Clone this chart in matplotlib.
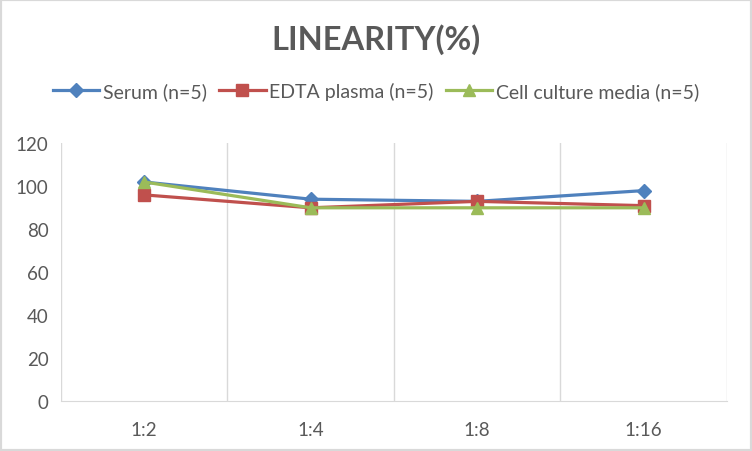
import numpy as np
import matplotlib.pyplot as plt
from matplotlib.patches import Rectangle

# dilution levels and recovery values (%)
dilutions = ['1:2', '1:4', '1:8', '1:16']
serum = [102, 94, 93, 98]
edta_plasma = [96, 90, 93, 91]
cell_media = [102, 90, 90, 90]
series_names = ['Serum (n=5)', 'EDTA plasma (n=5)', 'Cell culture media (n=5)']

plt.rcParams['font.family'] = ['Lato', 'DejaVu Sans']

fig = plt.figure(figsize=(7.52, 4.52), dpi=100)
ax = fig.add_axes([61 / 752, 1 - 402.3 / 452, 666 / 752, 258 / 452])

x = np.arange(len(dilutions)) + 0.5
ax.plot(x, serum, color='#4F81BD', lw=2.3, marker='D', ms=7, label=series_names[0])
ax.plot(x, edta_plasma, color='#C0504D', lw=2.3, marker='s', ms=8, label=series_names[1])
ax.plot(x, cell_media, color='#9BBB59', lw=2.3, marker='^', ms=9, label=series_names[2])

ax.set_xlim(0, len(dilutions))
ax.set_ylim(0, 120)
ax.set_yticks(range(0, 121, 20))
ax.set_xticks(x)
ax.set_xticklabels(dilutions)
for b in range(len(dilutions) + 1):
    ax.axvline(b, color='#D9D9D9', lw=1, zorder=0)
for s in ['top', 'right', 'left']:
    ax.spines[s].set_visible(False)
ax.spines['bottom'].set_color('#D9D9D9')
ax.tick_params(length=0, labelsize=13.5, colors='#595959')
ax.tick_params(axis='x', pad=14)
ax.tick_params(axis='y', pad=9)

fig.text(0.5, 1 - 40 / 452, 'LINEARITY(%)', ha='center', va='center',
         fontsize=23.5, fontweight='bold', color='#595959')
fig.legend(loc='center', bbox_to_anchor=(0.5, 1 - 92 / 452), ncol=3, frameon=False,
           fontsize=14, labelcolor='#595959', handlelength=2.4, handletextpad=0.2,
           columnspacing=0.6)

fig.patches.append(Rectangle((0, 0), 1, 1, transform=fig.transFigure, fill=False,
                             edgecolor='#D9D9D9', lw=3))

fig.savefig('out.png', dpi=100)
